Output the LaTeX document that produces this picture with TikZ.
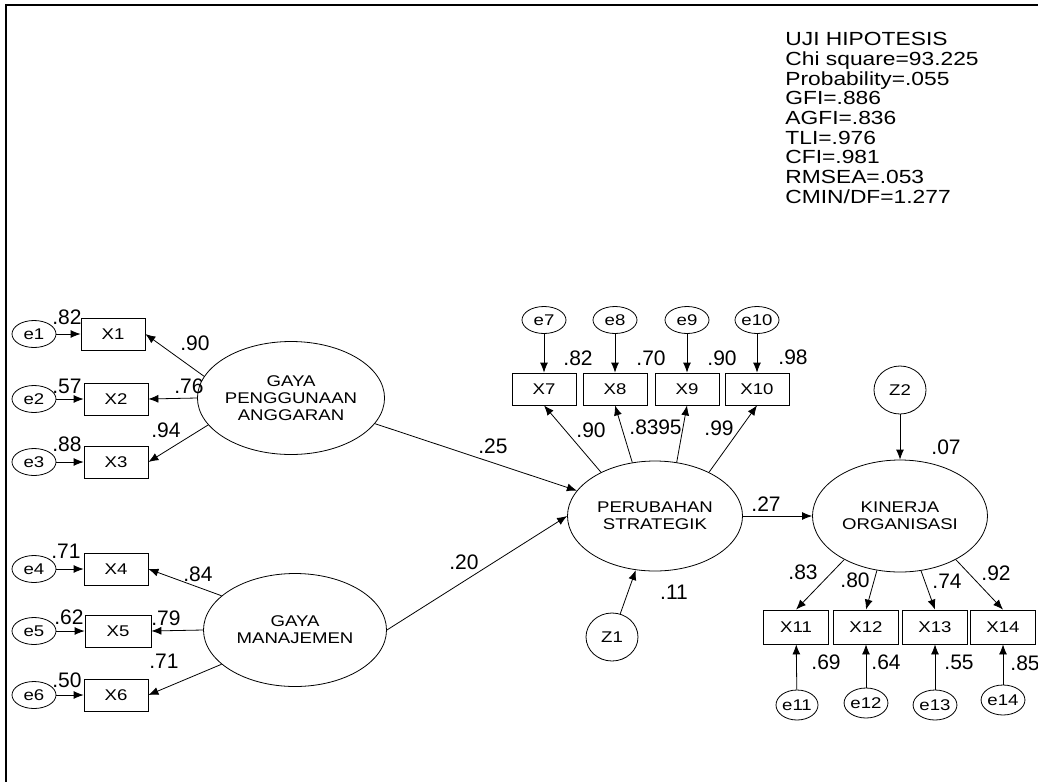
\documentclass[tikz,border=0pt]{standalone}
\usepackage{fontspec}
\setmainfont{Liberation Sans}
\newfontfamily\widesans[FakeStretch=1.2]{Liberation Sans}
\usetikzlibrary{positioning,calc,arrows.meta,shapes.geometric}

\tikzset{
	obs/.style={draw, rectangle, minimum width=64pt, minimum height=32pt, inner sep=1pt,
		font=\widesans\fontsize{15.5}{16}\selectfont},
	err/.style={draw, ellipse, minimum width=44pt, minimum height=27pt, inner sep=0pt,
		font=\widesans\fontsize{15.5}{16}\selectfont},
	dist/.style={draw, ellipse, minimum width=52pt, minimum height=48pt, inner sep=0pt,
		font=\widesans\fontsize{15.5}{16}\selectfont},
	lat/.style={draw, ellipse, minimum width=178pt, minimum height=113pt, inner sep=0pt, align=center,
		font=\widesans\fontsize{15.5}{16.7}\selectfont},
	coef/.style={inner sep=0pt, font=\fontsize{21}{21}\selectfont},
	arr/.style={-{Latex[length=10pt,width=8pt]}, line width=0.8pt},
}

\begin{document}
\begin{tikzpicture}
		[x=1pt, y=-1pt, line width=0.8pt]
		\useasboundingbox (0,0) rectangle (1038,782);
		\draw[line width=1.5pt] (1038,5) -- (6,5) -- (6,782);

		% fit statistics
		\node (fit) [anchor=north west, align=left, inner sep=0pt,
			font=\widesans\fontsize{19}{19.7}\selectfont] at (785,32)
			{UJI HIPOTESIS\\Chi square=93.225\\Probability=.055\\GFI=.886\\AGFI=.836\\
			TLI=.976\\CFI=.981\\RMSEA=.053\\CMIN/DF=1.277};

		% latent variables
		\node (gpa) [lat] at (291,398) {GAYA\\PENGGUNAAN\\ANGGARAN};
		\node (gm) [lat, minimum width=183pt] at (295,630) {GAYA\\MANAJEMEN};
		\node (ps) [lat, minimum width=175pt, minimum height=110pt] at (655,516) {PERUBAHAN\\STRATEGIK};
		\node (ko) [lat, minimum width=175pt, minimum height=112pt] at (900,516) {KINERJA\\ORGANISASI};
		\node (z1) [dist] at (612,637) {Z1};
		\node (z2) [dist] at (900,390) {Z2};

		% indicators on the left
		\node (x1) [obs] at (113,334) {X1};
		\node (x2) [obs] at (116,399) {X2};
		\node (x3) [obs] at (116,462) {X3};
		\node (x4) [obs] at (116,569) {X4};
		\node (x5) [obs, minimum width=66pt] at (118,631) {X5};
		\node (x6) [obs] at (116,695) {X6};
		\foreach \i in {1,...,6}
			\node (e\i) [err] at (34,0 |- x\i) {e\i};
		\foreach \i in {1,...,6}
			\draw[arr] (e\i) -- (x\i);

		% indicators on top
		\node (x7) [obs] at (544,389) {X7};
		\node (x8) [obs] at (615,389) {X8};
		\node (x9) [obs] at (687,389) {X9};
		\node (x10) [obs] at (757,389) {X10};
		\foreach \i in {7,...,10} {
			\node (e\i) [err] at (x\i |- 0,320) {e\i};
			\draw[arr] (e\i) -- (x\i);
		}

		% indicators on the right
		\node (x11) [obs, minimum width=65pt, minimum height=34pt] at (796,627) {X11};
		\node (x12) [obs, minimum width=65pt, minimum height=34pt] at (866,627) {X12};
		\node (x13) [obs, minimum width=65pt, minimum height=34pt] at (935,627) {X13};
		\node (x14) [obs, minimum width=65pt, minimum height=34pt] at (1003,627) {X14};
		\node (e11) [err, minimum width=42pt, minimum height=30pt] at (797,705) {e11};
		\node (e12) [err, minimum width=42pt, minimum height=30pt] at (866,703) {e12};
		\node (e13) [err, minimum width=42pt, minimum height=30pt] at (935,705) {e13};
		\node (e14) [err, minimum width=42pt, minimum height=30pt] at (1003,700) {e14};
		\foreach \i in {11,...,14}
			\draw[arr] (e\i) -- (x\i);

		% loadings
		\draw[arr] (gpa.166) -- (x1.east);
		\draw[arr] (gpa.west) -- (x2.east);
		\draw[arr] (gpa.198) -- (x3.east);
		\draw[arr] (gm.155) -- (x4.east);
		\draw[arr] (gm.west) -- (x5.east);
		\draw[arr] (gm.205) -- (x6.east);
		\draw[arr] (ps.141) -- (x7.south);
		\draw[arr] (ps.113) -- (x8.south);
		\draw[arr] (ps.68) -- (x9.south);
		\draw[arr] (ps.39) -- (x10.south);
		\draw[arr] (ko.-142) -- (x11.north);
		\draw[arr] (ko.-113) -- (x12.north);
		\draw[arr] (ko.-69) -- (x13.north);
		\draw[arr] (ko.-38) -- (x14.north);

		% structural paths
		\draw[arr] (gpa.-17) -- (ps.162);
		\draw[arr] (gm.east) -- (ps.west);
		\draw[arr] (ps) -- (ko);
		\draw[arr] (z1) -- (ps);
		\draw[arr] (z2) -- (ko);

		% estimates
		\node (r1) [coef] at (67,317) {.82};
		\node (r2) [coef] at (67,386) {.57};
		\node (r3) [coef] at (67,444) {.88};
		\node (r4) [coef] at (66,551) {.71};
		\node (r5) [coef] at (69,617) {.62};
		\node (r6) [coef] at (67,680) {.50};
		\node (l1) [coef] at (195,343) {.90};
		\node (l2) [coef] at (189,386) {.76};
		\node (l3) [coef] at (166,430) {.94};
		\node (l4) [coef] at (198,574) {.84};
		\node (l5) [coef] at (166,618) {.79};
		\node (l6) [coef] at (164,661) {.71};
		\node (r7) [coef] at (578,358) {.82};
		\node (r8) [coef] at (651,358) {.70};
		\node (r9) [coef] at (722,358) {.90};
		\node (r10) [coef] at (793,357) {.98};
		\node (l7) [coef] at (591,430) {.90};
		\node (l8) [coef] at (644,427) {.83};
		\node (l9) [coef] at (667,427) {.95};
		\node (l10) [coef] at (719,428) {.99};
		\node (l11) [coef] at (803,572) {.83};
		\node (l12) [coef] at (855,580) {.80};
		\node (l13) [coef] at (947,581) {.74};
		\node (l14) [coef] at (996,573) {.92};
		\node (r11) [coef] at (826,662) {.69};
		\node (r12) [coef] at (886,662) {.64};
		\node (r13) [coef] at (959,662) {.55};
		\node (r14) [coef] at (1025,663) {.85};
		\node (b1) [coef] at (493,446) {.25};
		\node (b2) [coef] at (464,562) {.20};
		\node (b3) [coef] at (766,504) {.27};
		\node (rps) [coef] at (674,592) {.11};
		\node (rko) [coef] at (946,447) {.07};
	\end{tikzpicture}
\end{document}
